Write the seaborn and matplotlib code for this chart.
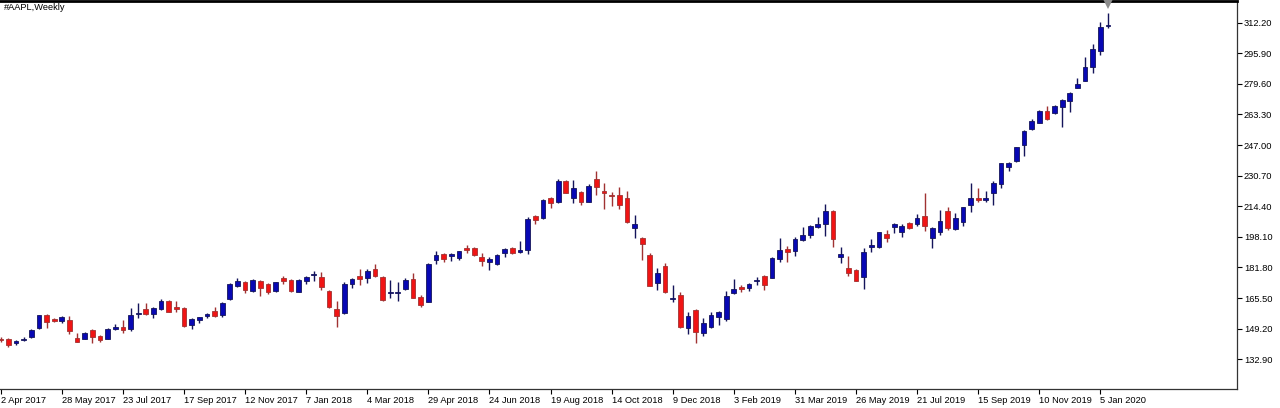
import numpy as np
import pandas as pd
import matplotlib
matplotlib.use("Agg")
import matplotlib.pyplot as plt
import seaborn as sns

# weekly AAPL bars (first bar = week of 2 Apr 2017)
opens = [143.7, 143.5, 141.8, 143.0, 144.9, 149.4, 156.5, 154.4, 153.3, 153.8,
         144.4, 143.9, 148.3, 145.3, 143.9, 148.9, 150.3, 149.2, 157.0, 159.5,
         157.0, 159.5, 164.1, 160.6, 160.1, 151.2, 153.6, 155.8, 158.6, 156.5,
         164.9, 171.9, 174.2, 169.4, 174.8, 172.8, 169.3, 176.0, 175.1, 168.9,
         174.8, 177.6, 176.9, 169.3, 159.5, 157.4, 173.0, 177.4, 176.4, 180.8,
         176.9, 168.0, 168.4, 170.2, 175.7, 166.2, 163.6, 185.8, 189.0, 188.1,
         187.0, 192.0, 192.0, 187.6, 184.6, 183.7, 189.7, 192.3, 190.2, 191.1,
         209.2, 208.0, 218.7, 216.8, 228.0, 218.7, 222.2, 216.8, 229.0, 222.5,
         220.6, 220.4, 219.0, 203.0, 197.3, 188.5, 173.4, 182.8, 164.9, 167.1,
         149.4, 159.2, 147.1, 149.9, 155.3, 154.2, 168.0, 171.6, 170.7, 174.6,
         177.3, 176.4, 186.2, 191.5, 190.8, 196.4, 199.1, 203.5, 204.8, 211.9,
         187.6, 181.4, 180.5, 176.9, 192.6, 192.6, 199.6, 203.5, 200.9, 205.7,
         204.8, 209.2, 197.7, 200.5, 211.9, 202.3, 206.2, 215.1, 218.7, 217.5,
         221.6, 226.3, 235.5, 238.5, 247.1, 255.6, 258.9, 265.2, 263.9, 267.5,
         270.6, 277.6, 281.3, 288.4, 297.3, 310.4]
highs = [144.8, 144.2, 143.2, 144.6, 149.2, 156.7, 157.0, 154.9, 155.7, 156.0,
         147.1, 147.3, 148.9, 145.6, 149.6, 151.7, 153.8, 160.1, 162.7, 162.7,
         160.6, 165.0, 164.5, 164.1, 160.6, 154.7, 155.6, 157.7, 160.9, 163.6,
         173.7, 176.0, 174.8, 175.5, 175.1, 173.4, 174.2, 177.3, 175.5, 175.5,
         177.3, 180.1, 179.6, 169.6, 164.0, 174.2, 176.0, 180.8, 181.0, 183.5,
         177.3, 175.1, 174.2, 176.0, 179.0, 167.1, 184.0, 190.6, 189.4, 189.7,
         190.7, 193.8, 192.6, 189.4, 187.2, 188.8, 192.0, 192.7, 196.1, 208.5,
         209.7, 218.1, 219.5, 228.8, 228.4, 228.4, 222.7, 226.3, 233.4, 227.0,
         222.2, 224.5, 222.5, 209.8, 197.9, 189.4, 181.4, 184.0, 172.5, 168.6,
         158.2, 159.7, 154.7, 158.2, 158.8, 169.3, 175.7, 172.3, 173.4, 176.6,
         177.8, 187.6, 197.7, 193.2, 198.2, 203.2, 204.4, 208.5, 215.6, 212.3,
         192.5, 187.9, 180.8, 192.0, 197.0, 200.9, 201.8, 205.7, 205.0, 206.2,
         210.1, 221.6, 203.5, 212.4, 214.2, 210.7, 214.2, 226.7, 224.0, 222.5,
         227.9, 237.6, 238.2, 246.1, 255.0, 260.7, 265.7, 267.8, 268.4, 271.6,
         275.4, 282.6, 294.1, 300.9, 312.4, 317.5]
lows = [142.1, 139.6, 140.5, 142.6, 144.1, 149.0, 149.4, 152.6, 152.1, 146.4,
        141.9, 143.5, 141.7, 142.1, 143.5, 148.5, 147.1, 147.9, 154.7, 156.3,
        154.7, 159.2, 158.1, 158.1, 149.9, 149.2, 152.1, 154.7, 155.3, 155.3,
        164.5, 171.6, 168.0, 168.9, 166.8, 167.5, 168.9, 173.0, 168.7, 168.6,
        172.8, 174.8, 169.8, 160.1, 149.9, 157.0, 170.7, 172.5, 173.7, 176.9,
        164.1, 165.4, 164.1, 169.8, 165.4, 160.6, 163.3, 183.7, 184.9, 185.4,
        185.8, 189.7, 188.1, 182.6, 180.5, 183.3, 187.6, 189.1, 189.4, 188.8,
        205.0, 207.6, 213.6, 216.3, 221.3, 216.0, 215.1, 216.5, 220.4, 212.8,
        214.6, 212.8, 205.3, 197.7, 185.8, 171.9, 169.8, 168.4, 163.6, 149.7,
        146.4, 141.7, 145.3, 149.4, 151.2, 153.5, 167.7, 168.9, 169.3, 172.5,
        169.8, 176.0, 184.6, 184.6, 188.1, 195.9, 197.7, 202.7, 198.6, 192.5,
        184.4, 177.4, 174.4, 170.2, 190.2, 192.2, 195.2, 200.3, 198.2, 202.2,
        203.9, 201.4, 192.3, 199.1, 201.8, 201.8, 203.9, 211.5, 216.9, 216.9,
        215.1, 224.3, 233.4, 238.2, 241.2, 255.0, 258.6, 260.4, 263.4, 256.5,
        264.8, 277.3, 281.0, 285.3, 295.0, 309.2]
closes = [143.2, 140.5, 142.6, 143.9, 148.5, 156.3, 152.9, 153.3, 155.3, 148.1,
          142.3, 146.7, 144.6, 143.2, 149.2, 150.3, 148.5, 156.3, 157.7, 157.0,
          160.1, 164.1, 158.2, 159.5, 150.6, 154.4, 155.2, 157.0, 156.0, 163.0,
          172.8, 174.8, 169.8, 175.1, 170.7, 168.9, 173.9, 174.8, 169.3, 175.1,
          176.9, 178.3, 171.2, 160.6, 156.0, 172.8, 175.7, 175.7, 179.9, 177.4,
          164.5, 168.6, 168.9, 175.0, 165.8, 161.8, 183.7, 188.5, 186.2, 188.8,
          190.4, 191.1, 188.5, 185.4, 186.3, 188.5, 191.5, 189.7, 191.1, 207.6,
          207.1, 217.8, 216.0, 228.0, 221.6, 224.0, 216.8, 225.2, 224.8, 221.3,
          219.9, 215.1, 205.9, 204.8, 194.3, 172.1, 178.7, 168.6, 165.7, 150.3,
          156.0, 147.3, 152.1, 156.5, 158.2, 166.6, 170.2, 170.2, 172.8, 175.1,
          172.5, 187.0, 191.1, 189.9, 197.0, 199.1, 203.9, 204.8, 211.9, 196.8,
          189.0, 178.7, 174.8, 190.2, 193.6, 200.5, 197.7, 205.0, 203.9, 202.7,
          208.3, 203.9, 202.7, 206.7, 202.7, 208.3, 213.9, 218.7, 217.8, 218.7,
          226.7, 237.3, 237.3, 245.8, 254.5, 260.0, 265.2, 260.9, 267.8, 271.0,
          274.9, 279.4, 288.4, 298.0, 309.7, 311.0]

date_labels = ["2 Apr 2017", "28 May 2017", "23 Jul 2017", "17 Sep 2017",
               "12 Nov 2017", "7 Jan 2018", "4 Mar 2018", "29 Apr 2018",
               "24 Jun 2018", "19 Aug 2018", "14 Oct 2018", "9 Dec 2018",
               "3 Feb 2019", "31 Mar 2019", "26 May 2019", "21 Jul 2019",
               "15 Sep 2019", "10 Nov 2019", "5 Jan 2020"]
price_ticks = [132.90, 149.20, 165.50, 181.80, 198.10, 214.40,
               230.70, 247.00, 263.30, 279.60, 295.90, 312.20]

UP_BODY, UP_WICK = "#0808B4", "#14145A"
DN_BODY, DN_WICK = "#F01414", "#A03232"

sns.set_style("white")
plt.rcParams["font.family"] = ["Liberation Sans", "DejaVu Sans"]

df = pd.DataFrame({"open": opens, "high": highs, "low": lows, "close": closes})
df["bar"] = np.arange(len(df))
df["up"] = df["close"] >= df["open"]

fig = plt.figure(figsize=(12.8, 4.08), dpi=100)
ax = fig.add_axes([0, 19 / 408, 1237 / 1280, 388 / 408])

for up, body_c, wick_c in [(True, UP_BODY, UP_WICK), (False, DN_BODY, DN_WICK)]:
    d = df[df["up"] == up]
    ax.vlines(d["bar"], d["low"], d["high"], color=wick_c, linewidth=1.0, zorder=2)
    bottom = np.minimum(d["open"], d["close"])
    height = np.maximum((d["close"] - d["open"]).abs(), 0.45)
    ax.bar(d["bar"], height, bottom=bottom, width=0.62, color=body_c,
           edgecolor=wick_c, linewidth=0.6, zorder=3)

ax.set_xlim(-0.1, 161.9)
ax.set_ylim(117.07, 323.76)

ax.yaxis.tick_right()
ax.set_yticks(price_ticks)
ax.set_yticklabels([f"{v:.2f}" for v in price_ticks])
ax.set_xticks(np.arange(len(date_labels)) * 8)
ax.set_xticklabels(date_labels, ha="left")
ax.tick_params(axis="both", labelsize=6.7, colors="black", length=3.5,
               width=0.8, direction="out", pad=2)
ax.tick_params(axis="y", pad=1.5, right=True, left=False)
ax.tick_params(axis="x", bottom=True, pad=1.5)

ax.spines["left"].set_visible(False)
ax.spines["top"].set_linewidth(2.0)
ax.spines["top"].set_color("black")
for side in ["right", "bottom"]:
    ax.spines[side].set_linewidth(0.9)
    ax.spines[side].set_color("#333333")
ax.grid(False)
ax.set_facecolor("white")

# chart-shift marker hanging from the top edge above the last bar
ax.plot(len(df) - 1, ax.get_ylim()[1] - 1.2, marker="v", markersize=8,
        color="#8c8c8c", markeredgewidth=0, clip_on=False, zorder=5)

fig.text(4 / 1280, 1 - 8 / 408, "#AAPL,Weekly", fontsize=6.7, va="center",
         ha="left", color="black")

fig.savefig("out.png", dpi=100, facecolor="white")
